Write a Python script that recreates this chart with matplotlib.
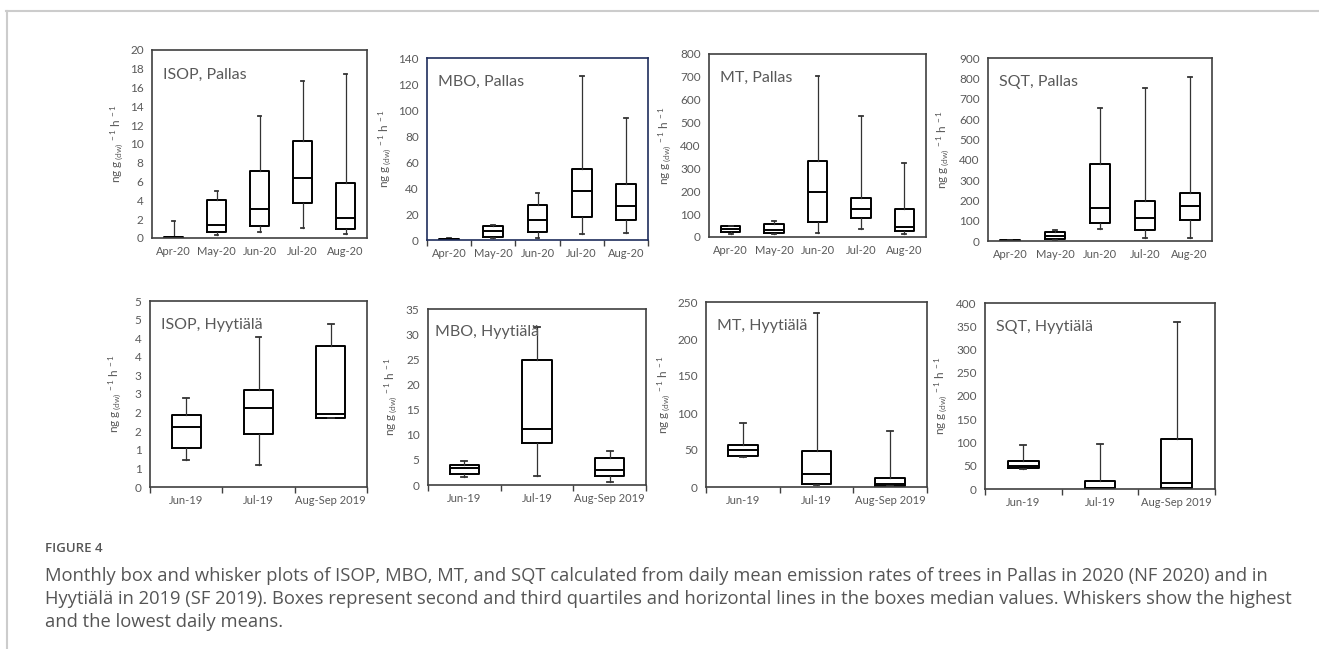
import numpy as np
import matplotlib.pyplot as plt
from matplotlib.lines import Line2D

plt.rcParams['font.family'] = ['Lato', 'DejaVu Sans']
plt.rcParams['mathtext.fontset'] = 'custom'
plt.rcParams['mathtext.rm'] = 'Lato'
plt.rcParams['mathtext.default'] = 'regular'

W, H = 1319, 649

# ---- data: whisker low, Q1, median, Q3, whisker high ----
pallas_months = ["Apr-20", "May-20", "Jun-20", "Jul-20", "Aug-20"]
hyy_months = ["Jun-19", "Jul-19", "Aug-Sep 2019"]

isop_pallas_lo = [0.0, 0.36, 0.67, 1.07, 0.39]
isop_pallas_q1 = [0.02, 0.6, 1.31, 3.73, 0.99]
isop_pallas_med = [0.08, 1.42, 3.13, 6.43, 2.17]
isop_pallas_q3 = [0.15, 4.05, 7.1, 10.3, 5.86]
isop_pallas_hi = [1.78, 5.04, 13.0, 16.7, 17.5]

mbo_pallas_lo = [0.2, 1.8, 1.3, 4.6, 5.6]
mbo_pallas_q1 = [0.3, 2.6, 5.9, 17.9, 15.1]
mbo_pallas_med = [0.5, 6.9, 15.3, 37.6, 26.3]
mbo_pallas_q3 = [0.8, 10.7, 27.3, 54.9, 43.4]
mbo_pallas_hi = [1.6, 11.5, 35.8, 126, 93.5]

mt_pallas_lo = [15, 14, 17, 34, 15]
mt_pallas_q1 = [22, 18, 64, 82, 28]
mt_pallas_med = [34, 30, 197, 124, 44]
mt_pallas_q3 = [46, 55, 332, 171, 121]
mt_pallas_hi = [48, 68, 705, 528, 323]

sqt_pallas_lo = [0.5, 5, 57, 16, 13]
sqt_pallas_q1 = [1, 8, 89, 53, 102]
sqt_pallas_med = [2, 25, 161, 115, 171]
sqt_pallas_q3 = [3, 43, 381, 199, 238]
sqt_pallas_hi = [4, 54, 653, 752, 806]

isop_hyy_lo = [0.72, 0.59, 1.86]
isop_hyy_q1 = [1.06, 1.42, 1.86]
isop_hyy_med = [1.6, 2.12, 1.96]
isop_hyy_q3 = [1.93, 2.6, 3.78]
isop_hyy_hi = [2.38, 4.04, 4.39]

mbo_hyy_lo = [1.6, 1.7, 0.5]
mbo_hyy_q1 = [2.27, 8.3, 1.7]
mbo_hyy_med = [3.3, 11.1, 2.9]
mbo_hyy_q3 = [4.07, 24.9, 5.4]
mbo_hyy_hi = [4.7, 31.5, 6.7]

mt_hyy_lo = [41, 2.7, 1]
mt_hyy_q1 = [42, 4.5, 1.8]
mt_hyy_med = [50.5, 17.6, 4.5]
mt_hyy_q3 = [57, 48, 12]
mt_hyy_hi = [86, 235.6, 76]

sqt_hyy_lo = [44, 1, 1]
sqt_hyy_q1 = [45, 1.5, 1.5]
sqt_hyy_med = [49, 3, 13]
sqt_hyy_q3 = [60, 18, 107.5]
sqt_hyy_hi = [94, 97, 360]

isop_hyy_ticklabels = ["0", "1", "1", "2", "2", "3", "3", "4", "4", "5", "5"]

ylab = r"ng g$_{\,(dw)}$$^{\,-1}$ h$^{\,-1}$"
grey = "#595959"


def make_stats(lo, q1, med, q3, hi):
    return [dict(whislo=a, q1=b, med=c, q3=d, whishi=e, fliers=[])
            for a, b, c, d, e in zip(lo, q1, med, q3, hi)]


def add_ax(l, r, t, b):
    return fig.add_axes([l / W, 1 - b / H, (r - l) / W, (b - t) / H])


def draw_panel(ax, stats, labels, ymax, step, title, boundary_ticks=False,
               frame="#404040", width=0.45, ylabel_x=-0.12):
    pos = np.arange(1, len(stats) + 1)
    ax.bxp(stats, positions=pos, widths=width, capwidths=width * 0.2,
           showfliers=False, patch_artist=False,
           boxprops=dict(color="black", linewidth=1.4),
           medianprops=dict(color="black", linewidth=1.4),
           whiskerprops=dict(color="#333333", linewidth=0.9),
           capprops=dict(color="#333333", linewidth=1.3))
    ax.set_xlim(0.5, len(stats) + 0.5)
    ax.set_ylim(0, ymax)
    ax.set_yticks(np.arange(0, ymax + step / 2, step))
    ax.set_xticks(pos)
    ax.set_xticklabels(labels)
    ax.tick_params(axis="both", length=0, labelsize=8.5, labelcolor=grey,
                   pad=6)
    ax.tick_params(axis="x", labelsize=8)
    if boundary_ticks:
        ax.set_xticks(np.arange(0.5, len(stats) + 0.6, 1), minor=True)
        ax.tick_params(axis="x", which="minor", length=4, direction="out",
                       color="#404040", width=1)
    for s in ax.spines.values():
        s.set_color(frame)
        s.set_linewidth(1.2)
    ax.text(0.05, 0.87, title, transform=ax.transAxes, fontsize=11.5,
            color=grey, ha="left", va="center")
    ax.set_ylabel(ylab, fontsize=8.5, color=grey)
    ax.yaxis.set_label_coords(ylabel_x, 0.5)


fig = plt.figure(figsize=(W / 100, H / 100), dpi=100)

# top row: Pallas
ax1 = add_ax(152, 367, 50, 238)
draw_panel(ax1, make_stats(isop_pallas_lo, isop_pallas_q1, isop_pallas_med,
                           isop_pallas_q3, isop_pallas_hi),
           pallas_months, 20, 2, "ISOP, Pallas", ylabel_x=-0.12)

ax2 = add_ax(427, 648, 58, 240)
draw_panel(ax2, make_stats(mbo_pallas_lo, mbo_pallas_q1, mbo_pallas_med,
                           mbo_pallas_q3, mbo_pallas_hi),
           pallas_months, 140, 20, "MBO, Pallas", boundary_ticks=True,
           frame="#1f2d5c", ylabel_x=-0.15)

ax3 = add_ax(709, 926, 54, 237)
draw_panel(ax3, make_stats(mt_pallas_lo, mt_pallas_q1, mt_pallas_med,
                           mt_pallas_q3, mt_pallas_hi),
           pallas_months, 800, 100, "MT, Pallas", ylabel_x=-0.16)

ax4 = add_ax(988, 1212, 58, 241)
draw_panel(ax4, make_stats(sqt_pallas_lo, sqt_pallas_q1, sqt_pallas_med,
                           sqt_pallas_q3, sqt_pallas_hi),
           pallas_months, 900, 100, "SQT, Pallas", ylabel_x=-0.16)

# bottom row: Hyytiälä
ax5 = add_ax(150, 367, 301, 487)
draw_panel(ax5, make_stats(isop_hyy_lo, isop_hyy_q1, isop_hyy_med,
                           isop_hyy_q3, isop_hyy_hi),
           hyy_months, 5, 0.5, "ISOP, Hyytiälä", boundary_ticks=True,
           width=0.4, ylabel_x=-0.12)
ax5.set_yticklabels(isop_hyy_ticklabels)

ax6 = add_ax(428, 646, 309, 485)
draw_panel(ax6, make_stats(mbo_hyy_lo, mbo_hyy_q1, mbo_hyy_med,
                           mbo_hyy_q3, mbo_hyy_hi),
           hyy_months, 35, 5, "MBO, Hyytiälä", boundary_ticks=True,
           width=0.4, ylabel_x=-0.13)
ax6.texts[0].set_position((0.03, 0.87))

ax7 = add_ax(706, 927, 302, 487)
draw_panel(ax7, make_stats(mt_hyy_lo, mt_hyy_q1, mt_hyy_med,
                           mt_hyy_q3, mt_hyy_hi),
           hyy_months, 250, 50, "MT, Hyytiälä", boundary_ticks=True,
           width=0.4, ylabel_x=-0.15)

ax8 = add_ax(985, 1215, 303, 489)
draw_panel(ax8, make_stats(sqt_hyy_lo, sqt_hyy_q1, sqt_hyy_med,
                           sqt_hyy_q3, sqt_hyy_hi),
           hyy_months, 400, 50, "SQT, Hyytiälä", boundary_ticks=True,
           width=0.4, ylabel_x=-0.15)

# page frame lines
fig.add_artist(Line2D([6 / W, 1], [1 - 11 / H, 1 - 11 / H], color="#cccccc",
                      linewidth=1.5))
fig.add_artist(Line2D([7 / W, 7 / W], [1 - 11 / H, 0], color="#cccccc",
                      linewidth=1.5))

# caption
cap_font = ['Open Sans', 'DejaVu Sans']
fig.text(45 / W, 1 - 548 / H, "FIGURE 4", fontsize=9.5, color="#555555",
         family=cap_font, va="center", weight="semibold")
lines = ["Monthly box and whisker plots of ISOP, MBO, MT, and SQT calculated from daily mean emission rates of trees in Pallas in 2020 (NF 2020) and in",
         "Hyytiälä in 2019 (SF 2019). Boxes represent second and third quartiles and horizontal lines in the boxes median values. Whiskers show the highest",
         "and the lowest daily means."]
for i, ln in enumerate(lines):
    fig.text(45 / W, 1 - (576 + 23 * i) / H, ln, fontsize=13.2,
             color="#555555", family=cap_font, va="center")

fig.savefig("out.png", dpi=100)
